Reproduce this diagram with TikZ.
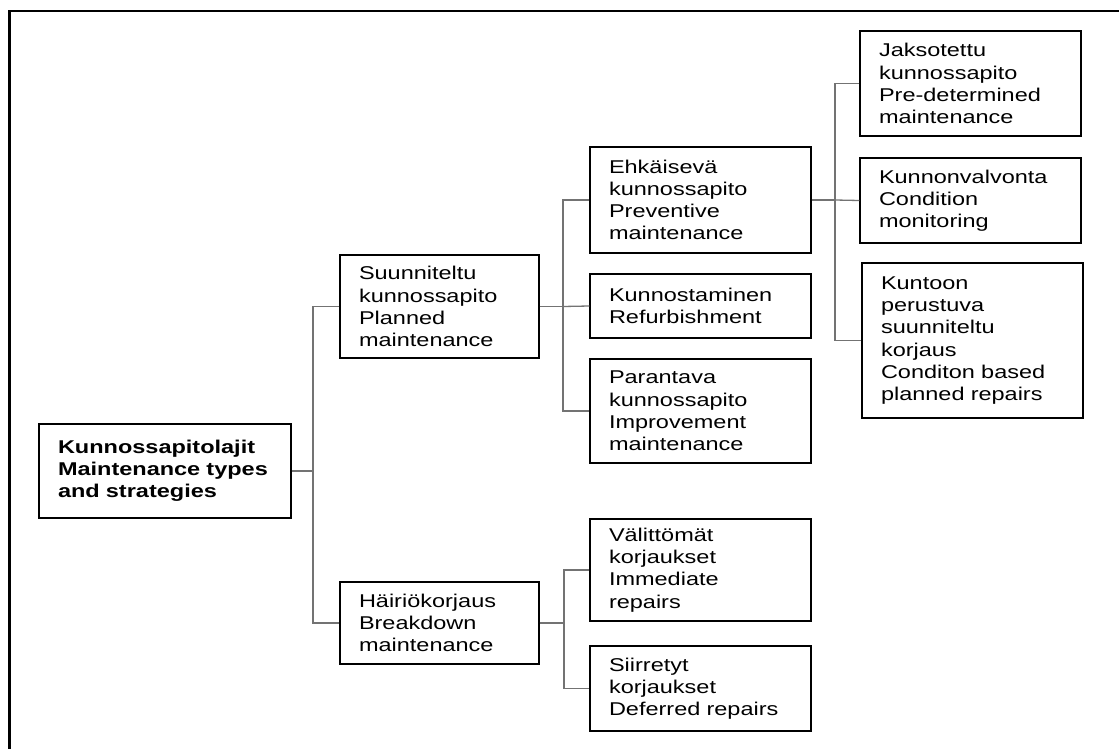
\documentclass[tikz,border=0pt]{standalone}
\usepackage{fontspec}
\setmainfont{Liberation Sans}[FakeStretch=1.27]
\begin{document}
\begin{tikzpicture}[x=1pt,y=-1pt,
  box/.style={draw=black, line width=1.4pt, align=left, inner xsep=19pt, inner ysep=0pt,
    font=\fontsize{18.5}{22.2}\selectfont, text=black},
  conn/.style={draw=black!55, line width=1.3pt},
  frame/.style={draw=black, line width=2.6pt}]
\useasboundingbox (0,0) rectangle (1119,749);
% outer frame (top and left edges visible)
\coordinate (fbl) at (9.5,749);
\coordinate (ftl) at (9.5,11);
\coordinate (ftr) at (1119,11);
\draw[frame] (fbl) -- (ftl) -- (ftr);
% boxes: center, width, height
\newcommand{\mybox}[8]{%
  \node[box, minimum width=#4, minimum height=#5, text width={#4-38pt}, #8] (#1) at (#2,#3) {#6};}
\mybox{root}{165}{471}{252pt}{94pt}{\textbf{Kunnossapitolajit}\\\textbf{Maintenance~types}\\\textbf{and~strategies}\\[4pt]}{}{}
\mybox{plan}{439.5}{306.5}{199pt}{103pt}{Suunniteltu\\kunnossapito\\Planned\\maintenance}{}{}
\mybox{brk}{439.5}{623}{199pt}{82pt}{Häiriökorjaus\\Breakdown\\maintenance}{}{}
\mybox{prev}{700.5}{200}{221pt}{106pt}{Ehkäisevä\\kunnossapito\\Preventive\\maintenance}{}{}
\mybox{refu}{700.5}{306}{221pt}{64pt}{Kunnostaminen\\Refurbishment}{}{}
\mybox{impr}{700.5}{411}{221pt}{104pt}{Parantava\\kunnossapito\\Improvement\\maintenance}{}{}
\mybox{imm}{700.5}{570}{221pt}{102pt}{Välittömät\\korjaukset\\Immediate\\repairs}{}{}
\mybox{def}{700.5}{688.5}{221pt}{85pt}{Siirretyt\\korjaukset\\Deferred~repairs}{}{}
\mybox{jak}{970.5}{83.5}{221pt}{105pt}{Jaksotettu\\kunnossapito\\Pre-determined\\maintenance}{}{}
\mybox{cond}{970.5}{200.5}{221pt}{85pt}{Kunnonvalvonta\\Condition\\monitoring}{}{}
\mybox{kunt}{972.5}{340.5}{221pt}{155pt}{Kuntoon\\perustuva\\suunniteltu\\korjaus\\Conditon~based\\planned~repairs}{}{}
% junction points
\coordinate (j1) at (313,471);
\coordinate (j2) at (563,306.5);
\coordinate (j3) at (564,623);
\coordinate (j4) at (835,200);
% connectors
\draw[conn] (root.east) -- (j1);
\draw[conn] (plan.west) -| (j1) |- (brk.west);
\draw[conn] (plan.east) -- (j2);
\draw[conn] (prev.west) -| (j2) |- (impr.west);
\draw[conn] (j2) -- (refu.west);
\draw[conn] (brk.east) -- (j3);
\draw[conn] (imm.west) -| (j3) |- (def.west);
\draw[conn] (prev.east) -- (j4);
\draw[conn] (jak.west) -| (j4) |- (kunt.west);
\draw[conn] (j4) -- (cond.west);
\end{tikzpicture}
\end{document}
